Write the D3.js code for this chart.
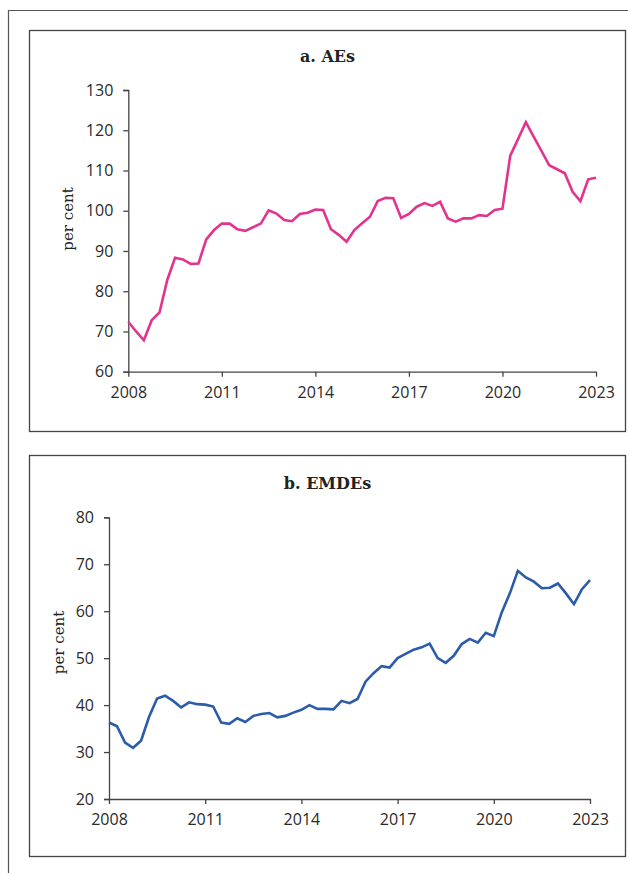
<!DOCTYPE html>
<html>
<head>
<meta charset="utf-8">
<script src="https://cdn.jsdelivr.net/npm/d3@7"></script>
<style>
  html, body { margin: 0; padding: 0; background: #fff; }
  svg { display: block; }
</style>
</head>
<body>
<svg id="chart" width="628" height="873"></svg>
<script>
// ---- Data (quarterly, 2008Q1 .. 2023Q1) ----
const startYear = 2008;
const aesValues = [72.4, 70.0, 67.8, 72.8, 74.7, 82.8, 88.3, 87.9, 86.8, 86.9,
  92.9, 95.2, 96.8, 96.8, 95.4, 95.0, 95.9, 96.8, 100.1, 99.3,
  97.7, 97.4, 99.2, 99.5, 100.3, 100.2, 95.4, 94.0, 92.3, 95.2,
  96.9, 98.5, 102.4, 103.2, 103.1, 98.2, 99.2, 101.0, 101.9, 101.2,
  102.2, 98.1, 97.3, 98.1, 98.1, 98.9, 98.7, 100.2, 100.5, 113.7,
  117.8, 122.0, 118.4, 114.9, 111.3, 110.3, 109.3, 104.7, 102.4, 107.8,
  108.2];
const emdeValues = [36.3, 35.5, 32.0, 30.9, 32.4, 37.5, 41.4, 42.0, 40.9, 39.5,
  40.6, 40.2, 40.1, 39.7, 36.3, 36.0, 37.2, 36.4, 37.7, 38.1,
  38.3, 37.4, 37.7, 38.4, 39.0, 40.0, 39.2, 39.2, 39.1, 40.9,
  40.4, 41.3, 45.0, 46.8, 48.3, 48.0, 50.0, 50.9, 51.8, 52.3,
  53.1, 50.0, 49.0, 50.5, 53.0, 54.1, 53.3, 55.4, 54.7, 59.8,
  63.8, 68.6, 67.2, 66.3, 64.9, 65.0, 65.9, 63.8, 61.5, 64.7,
  66.6];
const xTickYears = [2008, 2011, 2014, 2017, 2020, 2023];
const aesTicks = [60, 70, 80, 90, 100, 110, 120, 130];
const emdeTicks = [20, 30, 40, 50, 60, 70, 80];
const titles = ["a. AEs", "b. EMDEs"];
const yLabel = "per cent";

const svg = d3.select("#chart");

// outer frame (cropped on right/bottom)
svg.append("path")
  .attr("d", "M8.5,873 L8.5,10.5 L628,10.5")
  .attr("fill", "none").attr("stroke", "#555").attr("stroke-width", 1.2);

const panels = [
  { title: titles[0], values: aesValues, ticks: aesTicks, color: "#e2338f",
    frame: {x: 29, y: 30, w: 596, h: 401},
    plot: {x0: 128.3, x1: 596, y0: 371.7, y1: 90},
    titleY: 61.7, labelX: 72.5, labelY: 219 },
  { title: titles[1], values: emdeValues, ticks: emdeTicks, color: "#2b5ca9",
    frame: {x: 29, y: 455, w: 596, h: 401},
    plot: {x0: 109, x1: 590, y0: 799, y1: 517.3},
    titleY: 489.3, labelX: 64, labelY: 642.5 }
];

panels.forEach(p => {
  const g = svg.append("g");
  g.append("rect")
    .attr("x", p.frame.x + 0.5).attr("y", p.frame.y + 0.5)
    .attr("width", p.frame.w).attr("height", p.frame.h)
    .attr("fill", "none").attr("stroke", "#444").attr("stroke-width", 1.3);

  g.append("text")
    .attr("x", 327.5).attr("y", p.titleY)
    .attr("text-anchor", "middle")
    .attr("font-family", "'DejaVu Serif', serif")
    .attr("font-weight", "bold")
    .attr("font-size", "16px")
    .attr("fill", "#222")
    .text(p.title);

  const x = d3.scaleLinear().domain([2008, 2023]).range([p.plot.x0, p.plot.x1]);
  const y = d3.scaleLinear().domain([p.ticks[0], p.ticks[p.ticks.length - 1]]).range([p.plot.y0, p.plot.y1]);

  const yAxis = g.append("g")
    .attr("transform", `translate(${p.plot.x0},0)`)
    .call(d3.axisLeft(y).tickValues(p.ticks).tickSize(5).tickSizeOuter(5).tickPadding(10).tickFormat(d3.format("d")));
  const xAxis = g.append("g")
    .attr("transform", `translate(0,${p.plot.y0})`)
    .call(d3.axisBottom(x).tickValues(xTickYears).tickSize(5).tickSizeOuter(0).tickPadding(10).tickFormat(d3.format("d")));

  [xAxis, yAxis].forEach(a => {
    a.select(".domain").attr("stroke", "#444").attr("stroke-width", 1.3);
    a.selectAll(".tick line").attr("stroke", "#444").attr("stroke-width", 1.3);
    a.selectAll(".tick text")
      .attr("font-family", "'Open Sans', sans-serif")
      .attr("font-size", "16px")
      .attr("fill", "#2a2a2a");
  });

  g.append("text")
    .attr("transform", `translate(${p.labelX},${p.labelY}) rotate(-90)`)
    .attr("text-anchor", "middle")
    .attr("font-family", "'DejaVu Serif', serif")
    .attr("font-size", "15px")
    .attr("fill", "#222")
    .text(yLabel);

  const line = d3.line()
    .x((d, i) => x(startYear + i / 4))
    .y(d => y(d));
  g.append("path")
    .datum(p.values)
    .attr("d", line)
    .attr("fill", "none")
    .attr("stroke", p.color)
    .attr("stroke-width", 2.6)
    .attr("stroke-linejoin", "miter");
});
</script>
</body>
</html>
